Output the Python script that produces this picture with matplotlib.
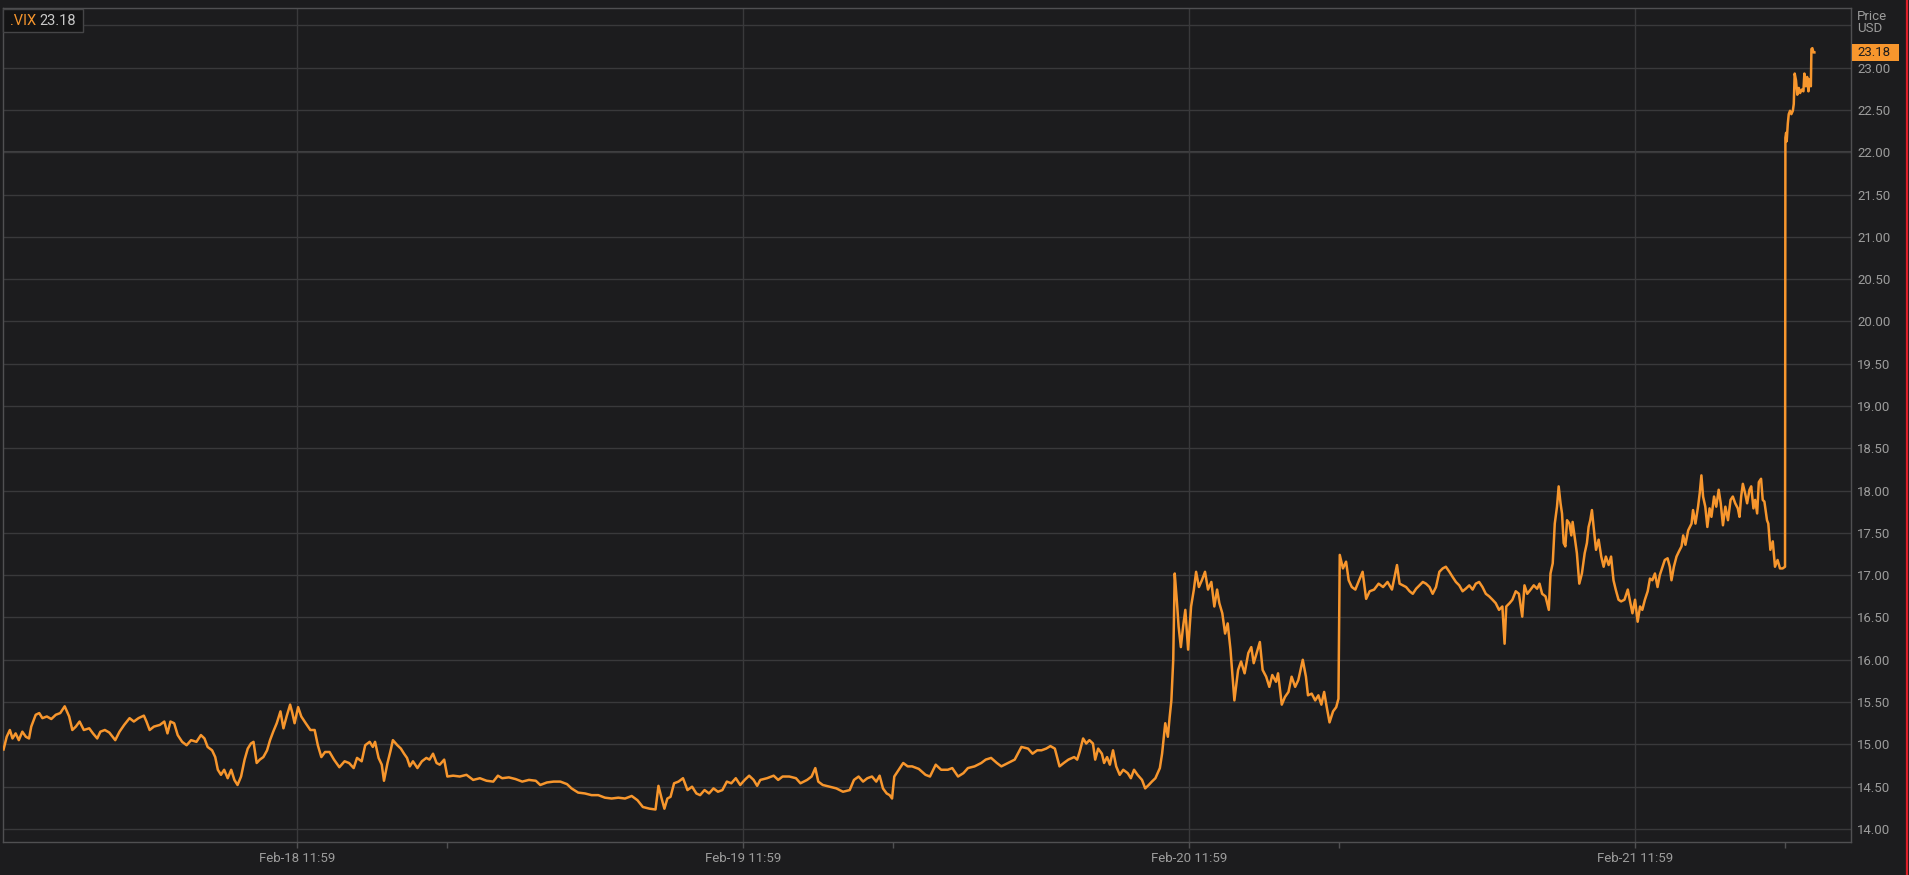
import matplotlib.pyplot as plt
from matplotlib.patches import Rectangle
from matplotlib.lines import Line2D
from matplotlib.transforms import blended_transform_factory

plt.rcParams['font.family'] = ['Roboto', 'DejaVu Sans']

# VIX intraday, hours relative to Feb-18 11:59
hours = [
    -15.79, -15.62, -15.45, -15.31, -15.14, -14.97, -14.78, -14.59, -14.42, -14.30,
    -14.06, -13.87, -13.70, -13.46, -13.22, -12.98, -12.74, -12.50, -12.26, -12.09,
    -11.90, -11.70, -11.47, -11.18, -10.98, -10.75, -10.58, -10.34, -10.10, -9.78,
    -9.55, -9.30, -9.01, -8.78, -8.53, -8.24, -8.10, -7.93, -7.70, -7.38,
    -7.14, -6.97, -6.81, -6.61, -6.42, -6.18, -5.94, -5.70, -5.41, -5.17,
    -4.98, -4.81, -4.57, -4.40, -4.26, -4.09, -3.92, -3.73, -3.54, -3.37,
    -3.20, -3.01, -2.82, -2.65, -2.48, -2.34, -2.17, -2.00, -1.81, -1.61,
    -1.45, -1.28, -1.09, -0.89, -0.73, -0.56, -0.37, -0.25, -0.13, 0.06,
    0.23, 0.47, 0.72, 0.95, 1.12, 1.31, 1.51, 1.75, 1.99, 2.28,
    2.56, 2.80, 3.05, 3.23, 3.48, 3.67, 3.91, 4.08, 4.20, 4.39,
    4.56, 4.68, 4.87, 5.04, 5.16, 5.40, 5.59, 5.76, 5.92, 6.07,
    6.24, 6.48, 6.72, 6.96, 7.13, 7.32, 7.51, 7.68, 7.92, 8.09,
    8.40, 8.76, 9.12, 9.48, 9.84, 10.20, 10.56, 10.81, 11.04, 11.40,
    11.76, 12.12, 12.48, 12.85, 13.09, 13.45, 13.81, 14.17, 14.53, 14.77,
    15.13, 15.49, 15.85, 16.21, 16.57, 16.93, 17.29, 17.65, 18.01, 18.32,
    18.61, 18.97, 19.29, 19.45, 19.62, 19.77, 19.93, 20.10, 20.29, 20.53,
    20.77, 21.01, 21.26, 21.49,
    21.69, 21.93, 22.17, 22.41, 22.65, 22.89, 23.13, 23.37, 23.61, 23.85,
    24.09, 24.33, 24.57, 24.76, 24.93, 25.29, 25.65, 25.89, 26.13, 26.49,
    26.85, 27.09, 27.45, 27.69, 27.89, 28.05, 28.29, 28.65, 29.02, 29.38,
    29.74, 29.97, 30.22, 30.46, 30.69, 30.94, 31.17, 31.35, 31.53, 31.73,
    31.89, 32.02, 32.14, 32.38, 32.62, 32.86, 33.10, 33.46, 33.82, 34.06,
    34.37, 34.66, 35.02, 35.26, 35.57, 35.86, 36.10, 36.46, 36.82, 37.06,
    37.35, 37.66, 37.90, 38.26, 38.62, 38.79, 38.98, 39.34, 39.58, 39.83,
    40.06, 40.31, 40.54, 40.78, 41.03, 41.26, 41.51, 41.82, 41.98, 42.11,
    42.30, 42.47, 42.64, 42.83, 42.95, 43.11, 43.31, 43.43, 43.59, 43.74,
    43.91, 44.08, 44.27, 44.46, 44.70, 44.87, 45.04, 45.23, 45.47, 45.64,
    45.83, 46.00, 46.19, 46.43, 46.55, 46.72, 46.86, 46.96, 47.05, 47.15,
    47.23, 47.34, 47.44, 47.56, 47.68, 47.80, 47.95, 48.11, 48.26, 48.38,
    48.53, 48.69, 48.86, 49.02, 49.20, 49.36, 49.51, 49.63, 49.79, 49.94,
    50.08, 50.23, 50.44, 50.64, 50.80, 50.99, 51.19, 51.35, 51.48, 51.64,
    51.81, 51.96, 52.15, 52.32, 52.48, 52.68, 52.79, 52.99, 53.16, 53.35,
    53.52, 53.71, 53.88, 54.12, 54.29, 54.40, 54.60, 54.79, 54.96, 55.12,
    55.27, 55.41, 55.56, 55.75, 55.92, 56.04, 56.11, 56.28, 56.45, 56.59,
    56.76, 56.95, 57.15, 57.34, 57.53, 57.72, 57.96, 58.20, 58.44, 58.68,
    58.92, 59.19,
    59.33, 59.51, 59.68, 59.87, 60.04, 60.22, 60.40, 60.58, 60.75, 60.94,
    61.11, 61.29, 61.47, 61.65, 61.82, 62.01, 62.18, 62.36, 62.54, 62.72,
    62.89, 63.08, 63.26, 63.43, 63.61, 63.79, 63.97, 64.15, 64.33, 64.50,
    64.68, 64.86, 64.98, 65.07, 65.25, 65.40, 65.58, 65.75, 65.93, 66.05,
    66.20, 66.38, 66.55, 66.73, 66.86, 67.00, 67.18, 67.36, 67.45, 67.57,
    67.68, 67.80, 67.89, 67.99, 68.07, 68.16, 68.25, 68.34, 68.47, 68.57,
    68.64, 68.75, 68.87, 69.00, 69.14, 69.29, 69.41, 69.50, 69.59, 69.68,
    69.77, 69.90, 70.04, 70.18, 70.31, 70.43, 70.58, 70.71, 70.84, 70.96,
    71.11, 71.25, 71.43, 71.61, 71.73, 71.86, 72.00, 72.14, 72.27, 72.39,
    72.53, 72.68, 72.80, 72.93, 73.07, 73.21, 73.33, 73.48, 73.60, 73.75,
    73.87, 73.96, 74.09, 74.23, 74.36, 74.50, 74.59, 74.71, 74.86, 75.04,
    75.12, 75.25, 75.39, 75.48, 75.57, 75.66, 75.78, 75.89, 76.01, 76.11,
    76.25, 76.37, 76.50, 76.61, 76.73, 76.86, 77.00, 77.14, 77.26, 77.39,
    77.53, 77.62, 77.71, 77.80, 77.92, 78.03, 78.16, 78.25, 78.37, 78.46,
    78.57, 78.66, 78.78, 78.87, 78.96, 79.10, 79.17, 79.28, 79.41, 79.53,
    79.67, 79.80, 79.94, 80.07,
    80.09, 80.13, 80.16, 80.22, 80.27, 80.34, 80.41, 80.49, 80.54, 80.59,
    80.66, 80.73, 80.81, 80.88, 80.97, 81.06, 81.11, 81.19, 81.26, 81.33,
    81.38, 81.46, 81.49, 81.54, 81.60, 81.65,
]
prices = [
    14.94, 15.09, 15.17, 15.07, 15.13, 15.05, 15.15, 15.09, 15.07, 15.21,
    15.35, 15.37, 15.31, 15.33, 15.30, 15.35, 15.37, 15.45, 15.33, 15.17,
    15.21, 15.27, 15.17, 15.19, 15.13, 15.07, 15.15, 15.17, 15.14, 15.05,
    15.15, 15.23, 15.31, 15.27, 15.31, 15.34, 15.27, 15.17, 15.21, 15.23,
    15.27, 15.13, 15.27, 15.25, 15.11, 15.03, 14.99, 15.05, 15.03, 15.11,
    15.07, 14.97, 14.93, 14.85, 14.70, 14.64, 14.70, 14.60, 14.70, 14.58,
    14.52, 14.62, 14.82, 14.95, 15.01, 15.03, 14.78, 14.82, 14.85, 14.93,
    15.05, 15.15, 15.25, 15.39, 15.19, 15.33, 15.47, 15.37, 15.25, 15.44,
    15.33, 15.25, 15.17, 15.17, 14.99, 14.85, 14.91, 14.91, 14.82, 14.73,
    14.80, 14.78, 14.72, 14.84, 14.80, 14.99, 15.03, 14.97, 15.03, 14.84,
    14.76, 14.57, 14.78, 14.93, 15.05, 14.99, 14.95, 14.89, 14.84, 14.74,
    14.80, 14.72, 14.80, 14.84, 14.82, 14.89, 14.78, 14.76, 14.82, 14.62,
    14.63, 14.62, 14.64, 14.58, 14.60, 14.57, 14.56, 14.63, 14.60, 14.61,
    14.59, 14.56, 14.58, 14.57, 14.52, 14.55, 14.56, 14.56, 14.53, 14.48,
    14.43, 14.42, 14.40, 14.40, 14.37, 14.36, 14.37, 14.36, 14.39, 14.34,
    14.26, 14.24, 14.23, 14.51, 14.36, 14.24, 14.36, 14.38, 14.54, 14.56,
    14.60, 14.46, 14.50, 14.42,
    14.40, 14.46, 14.42, 14.48, 14.44, 14.46, 14.56, 14.54, 14.60, 14.52,
    14.58, 14.63, 14.58, 14.51, 14.58, 14.60, 14.63, 14.58, 14.62, 14.62,
    14.60, 14.54, 14.58, 14.62, 14.72, 14.56, 14.52, 14.50, 14.48, 14.44,
    14.46, 14.58, 14.62, 14.56, 14.60, 14.62, 14.56, 14.63, 14.48, 14.42,
    14.40, 14.36, 14.62, 14.70, 14.78, 14.74, 14.74, 14.71, 14.64, 14.62,
    14.76, 14.70, 14.70, 14.72, 14.62, 14.66, 14.72, 14.74, 14.78, 14.82,
    14.84, 14.78, 14.74, 14.78, 14.82, 14.89, 14.97, 14.95, 14.89, 14.93,
    14.93, 14.95, 14.98, 14.95, 14.74, 14.78, 14.82, 14.85, 14.82, 14.91,
    15.07, 15.01, 15.05, 15.01, 14.82, 14.95, 14.89, 14.78, 14.85, 14.76,
    14.93, 14.74, 14.64, 14.70, 14.66, 14.60, 14.70, 14.64, 14.58, 14.48,
    14.52, 14.56, 14.60, 14.72, 14.89, 15.25, 15.09, 15.33, 15.52, 16.00,
    17.02, 16.71, 16.39, 16.15, 16.39, 16.59, 16.12, 16.63, 16.83, 17.04,
    16.86, 16.94, 17.04, 16.83, 16.92, 16.63, 16.83, 16.67, 16.55, 16.31,
    16.43, 16.12, 15.52, 15.88, 15.98, 15.84, 16.08, 16.15, 15.96, 16.08,
    16.21, 15.88, 15.80, 15.68, 15.82, 15.74, 15.84, 15.47, 15.56, 15.62,
    15.80, 15.68, 15.76, 16.00, 15.80, 15.58, 15.60, 15.52, 15.58, 15.47,
    15.62, 15.44, 15.26, 15.39, 15.44, 15.54, 17.24, 17.08, 17.16, 16.94,
    16.86, 16.83, 16.94, 17.04, 16.72, 16.81, 16.83, 16.90, 16.86, 16.92,
    16.83, 17.12,
    16.90, 16.88, 16.86, 16.81, 16.78, 16.84, 16.88, 16.92, 16.90, 16.86,
    16.78, 16.86, 17.04, 17.08, 17.10, 17.04, 16.98, 16.92, 16.88, 16.81,
    16.84, 16.88, 16.83, 16.90, 16.92, 16.86, 16.78, 16.75, 16.71, 16.67,
    16.59, 16.63, 16.19, 16.63, 16.67, 16.71, 16.81, 16.78, 16.51, 16.88,
    16.78, 16.83, 16.88, 16.84, 16.90, 16.78, 16.75, 16.59, 17.02, 17.14,
    17.61, 17.81, 18.05, 17.85, 17.73, 17.38, 17.34, 17.65, 17.61, 17.47,
    17.63, 17.45, 17.26, 16.90, 17.02, 17.26, 17.38, 17.57, 17.65, 17.77,
    17.57, 17.30, 17.42, 17.22, 17.10, 17.22, 17.12, 17.22, 16.94, 16.83,
    16.71, 16.69, 16.71, 16.83, 16.69, 16.55, 16.71, 16.45, 16.63, 16.59,
    16.71, 16.81, 16.96, 16.94, 17.02, 16.86, 17.00, 17.10, 17.18, 17.20,
    17.10, 16.94, 17.10, 17.22, 17.28, 17.34, 17.47, 17.36, 17.53, 17.61,
    17.77, 17.61, 17.81, 17.97, 18.18, 17.93, 17.81, 17.57, 17.79, 17.69,
    17.93, 17.81, 18.01, 17.85, 17.59, 17.81, 17.65, 17.89, 17.93, 17.85,
    17.79, 17.69, 17.93, 18.08, 17.97, 17.85, 18.01, 18.05, 17.79, 17.89,
    17.73, 18.10, 18.14, 17.89, 17.87, 17.65, 17.61, 17.30, 17.40, 17.10,
    17.18, 17.08, 17.08, 17.10,
    22.17, 22.23, 22.13, 22.34, 22.45, 22.49, 22.45, 22.49, 22.57, 22.93,
    22.85, 22.68, 22.76, 22.70, 22.74, 22.72, 22.93, 22.78, 22.89, 22.72,
    22.86, 22.78, 23.22, 23.23, 23.18, 23.18,
]

day_ticks = [0, 24, 48, 72]
day_labels = ['Feb-18 11:59', 'Feb-19 11:59', 'Feb-20 11:59', 'Feb-21 11:59']
session_ticks = [8.07, 32.07, 56.07, 80.07]
price_ticks = [14.0 + 0.5 * i for i in range(20)]
ref_level = 22.0

bg = '#1c1c1e'
orange = '#f7962d'
grid_c = '#39393b'
edge_c = '#505052'
text_c = '#9c9c9c'

W, H = 1909, 875
fig = plt.figure(figsize=(W / 100, H / 100), dpi=100, facecolor=bg)
ax = fig.add_axes([3 / W, 1 - 842 / H, 1848 / W, 834 / H], facecolor=bg)

ax.plot(hours, prices, color=orange, lw=1.8, solid_joinstyle='round', zorder=3)

ax.set_xlim(-15.82, 83.62)
ax.set_ylim(13.846, 23.705)

ax.set_xticks(day_ticks)
ax.set_xticklabels(day_labels)
ax.set_xticks(session_ticks, minor=True)
ax.set_yticks(price_ticks)
ax.set_yticklabels([f'{v:.2f}' if v < 23.4 else '' for v in price_ticks])
ax.yaxis.tick_right()

ax.grid(True, which='major', color=grid_c, lw=1.0)
# slightly heavier line at 22.00
ax.axhline(ref_level, color='#414143', lw=1.5, zorder=1)
ax.tick_params(axis='x', which='both', length=4.5, width=1, color=edge_c,
               labelcolor=text_c, labelsize=9.5, pad=3)
ax.tick_params(axis='y', length=0, labelcolor=text_c, labelsize=9.5, pad=4.5)
for s in ax.spines.values():
    s.set_color(edge_c)
    s.set_linewidth(1)

# legend box top-left
fig.add_artist(Rectangle((3 / W, 1 - 32 / H), 80 / W, 23 / H, transform=fig.transFigure,
                         facecolor='#141415', edgecolor='#454547', lw=1, zorder=5))
fig.text(10 / W, 1 - 21 / H, '.VIX', color=orange, fontsize=10.5, va='center', zorder=6)
fig.text(39 / W, 1 - 21 / H, f'{prices[-1]:.2f}', color='#c8c8c8', fontsize=10.5,
         va='center', zorder=6)

# axis title
fig.text(1857 / W, 1 - 16 / H, 'Price', color=text_c, fontsize=9.5, va='center')
fig.text(1857 / W, 1 - 29 / H, 'USD', color=text_c, fontsize=9.5, va='center')

# last price tag
tr = blended_transform_factory(fig.transFigure, ax.transData)
tag_h = 16.7 / (834 / (23.705 - 13.846))
ax.add_artist(Rectangle((1852 / W, prices[-1] - tag_h / 2), 47 / W, tag_h, transform=tr,
                        facecolor=orange, edgecolor='none', clip_on=False, zorder=5))
ax.text(1857 / W, prices[-1], f'{prices[-1]:.2f}', transform=tr, color='#1c1c1e',
        fontsize=9.5, va='center', ha='left', clip_on=False, zorder=6)

# red edge on the right
fig.add_artist(Line2D([1907 / W, 1907 / W], [0, 1], transform=fig.transFigure,
                      color='#e0202a', lw=1.6))

fig.savefig('out.png', dpi=100, facecolor=bg)
